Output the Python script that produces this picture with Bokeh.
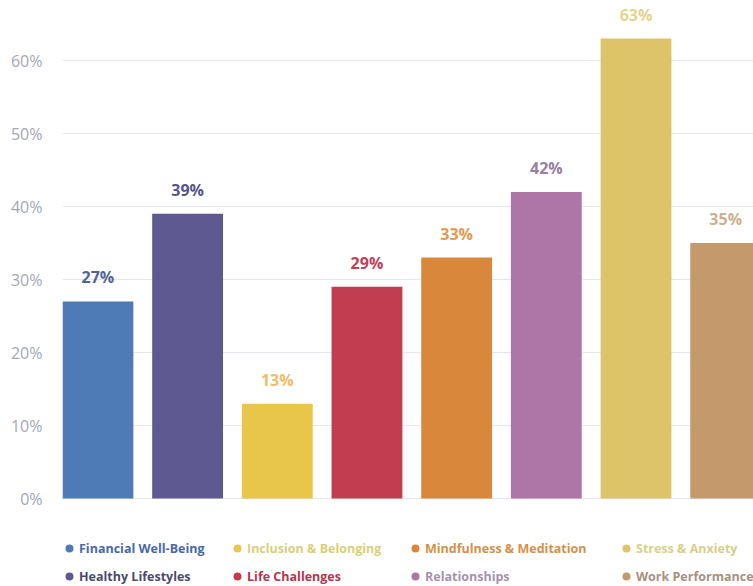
from bokeh.plotting import figure
from bokeh.models import ColumnDataSource, Range1d, FixedTicker, PrintfTickFormatter, Legend, LegendItem
from bokeh.core.properties import value
from bokeh.embed import file_html
from bokeh.resources import INLINE

categories = ["Financial Well-Being", "Healthy Lifestyles", "Inclusion & Belonging", "Life Challenges",
              "Mindfulness & Meditation", "Relationships", "Stress & Anxiety", "Work Performance"]
values = [27, 39, 13, 29, 33, 42, 63, 35]
value_labels = ["27%", "39%", "13%", "29%", "33%", "42%", "63%", "35%"]
bar_colors = ["#4e7ab5", "#5e5990", "#e8c64a", "#c33d51", "#d9873a", "#ae76a6", "#ddc468", "#c49a6c"]
label_colors = ["#4f6596", "#56568a", "#f2bb6a", "#c0405a", "#e39a50", "#9a7fa0", "#e4d48c", "#cdb08c"]
legend_text_colors = ["#4a68a8", "#4a4a6c", "#d8cf78", "#b8344e", "#d4904a", "#a890b0", "#d8cf88", "#a89080"]
y_ticks = [0, 10, 20, 30, 40, 50, 60]

FONT = "Open Sans"

idx = list(range(len(categories)))
src = ColumnDataSource(dict(x=idx, top=values, cat=categories, lab=value_labels,
                            bc=bar_colors, lc=label_colors))

p = figure(width=753, height=586, output_backend="svg", toolbar_location=None,
           x_range=Range1d(-0.395, 7.31), y_range=Range1d(-12.05, 68.22),
           min_border_left=62, min_border_right=0, min_border_top=0, min_border_bottom=0)
p.outline_line_color = None
p.background_fill_color = "white"
p.border_fill_color = "white"

p.vbar(x="x", top="top", bottom=0, width=0.79, fill_color="bc", line_color=None, source=src)
p.text(x="x", y="top", text="lab", text_color="lc", text_align="center", text_baseline="bottom",
       y_offset=-13, text_font=value(FONT), text_font_size="16px", text_font_style="bold", source=src)

dots = p.scatter(x="x", y="top", size=0, fill_color="bc", line_color=None, source=src)

p.xaxis.visible = False
p.xgrid.visible = False
p.yaxis.ticker = FixedTicker(ticks=y_ticks)
p.yaxis.formatter = PrintfTickFormatter(format="%d%%")
p.yaxis.axis_line_color = None
p.yaxis.major_tick_line_color = None
p.yaxis.minor_tick_line_color = None
p.yaxis.major_label_standoff = 14
p.yaxis.major_label_text_font = FONT
p.yaxis.major_label_text_font_size = "16px"
p.yaxis.major_label_text_color = "#a3a7b4"
p.ygrid.ticker = FixedTicker(ticks=y_ticks)
p.ygrid.grid_line_color = "#e6e7ee"
p.ygrid.grid_line_width = 1

# legend layout: column-major, 2 rows x 4 columns
col_x = [-3, 165, 343, 554]
row_y = [28, 0]
for i, cat in enumerate(categories):
    c, r = divmod(i, 2)
    leg = Legend(items=[LegendItem(label=cat, renderers=[dots], index=i)],
                 location=(col_x[c], row_y[r]), orientation="vertical",
                 glyph_width=20, glyph_height=20, label_standoff=0, label_height=20,
                 padding=0, margin=0, spacing=0,
                 border_line_alpha=0, background_fill_alpha=0,
                 label_text_font=FONT, label_text_font_size="12.5px", label_text_font_style="bold",
                 label_text_color=legend_text_colors[i], label_text_baseline="middle")
    p.add_layout(leg, "center")

open("out.html", "w").write(file_html(p, INLINE))
